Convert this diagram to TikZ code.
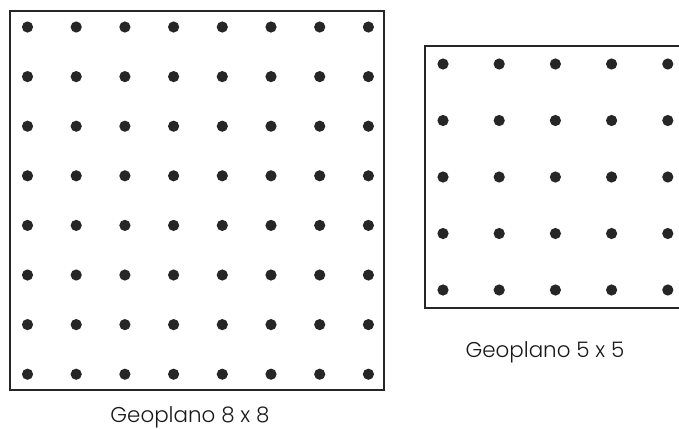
\documentclass[tikz,border=0pt]{standalone}
\usepackage{fontspec}
\setmainfont{Poppins}[UprightFont=* Light]
\begin{document}
\begin{tikzpicture}[x=1bp,y=-1bp,
  board/.style={line width=1.4bp, draw=black!85},
  peg/.style={fill=black!85, draw=none},
  lbl/.style={font=\fontsize{21.5}{26}\selectfont, text=black!90, inner sep=0pt, anchor=base}]
\clip (0,0) rectangle (679,428);
\fill[white] (0,0) rectangle (679,428);
% 8x8 board
\draw[board] (10,11) rectangle (384,390);
\foreach \i in {0,...,7}{
  \foreach \j in {0,...,7}{
    \fill[peg] (27.5+48.7*\i, 27+49.6*\j) circle (5.6);
  }
}
% 5x5 board
\draw[board] (425,46) rectangle (700,308);
\foreach \i in {0,...,4}{
  \foreach \j in {0,...,4}{
    \fill[peg] (443+56.2*\i, 64+56.5*\j) circle (5.6);
  }
}
\node[lbl] (l8) at (190,422) {Geoplano 8 x 8};
\node[lbl] (l5) at (545,357) {Geoplano 5 x 5};
\end{tikzpicture}
\end{document}
